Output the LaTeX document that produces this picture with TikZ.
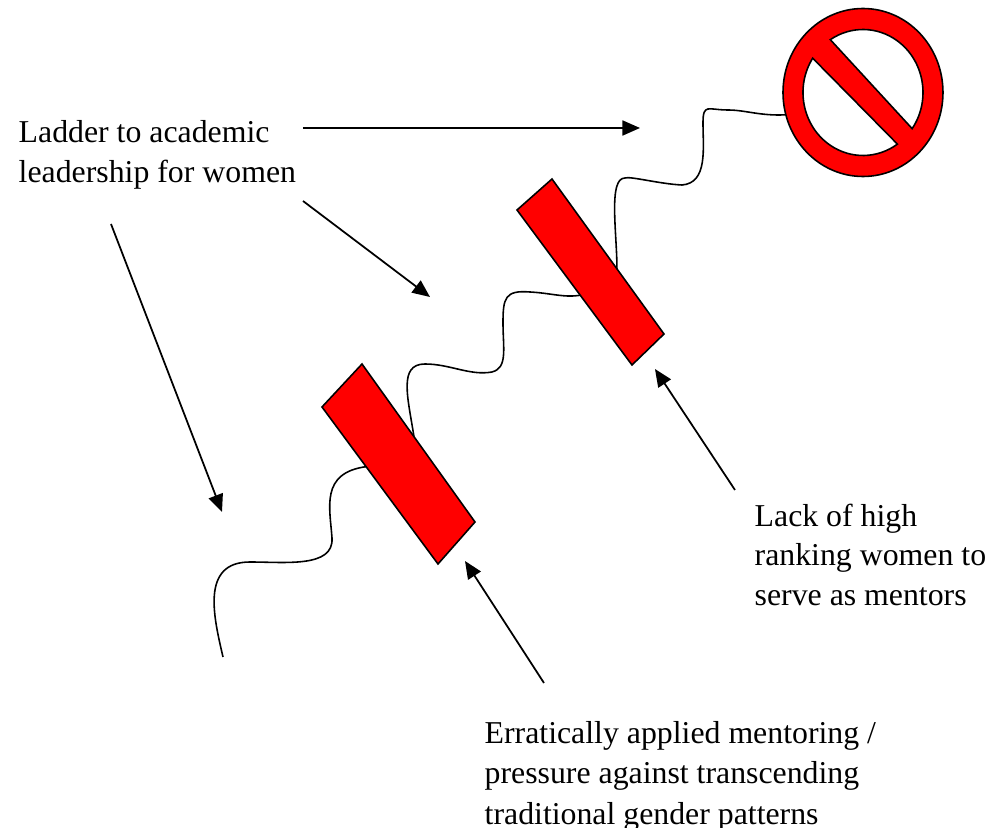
\documentclass[tikz,border=0pt]{standalone}
\usepackage{fontspec}
\setmainfont{Liberation Serif}
\usetikzlibrary{arrows.meta, calc, shapes.geometric}

\begin{document}
\begin{tikzpicture}[
    barrier/.style={draw, line width=0.45pt, fill=red},
    wave/.style={line width=0.45pt},
    arr/.style={-{Stealth[length=1.75mm, width=1.5mm, inset=0pt]}, line width=0.5pt},
    label/.style={align=left, anchor=north west, inner sep=0pt, font=\fontsize{9.05}{11.3}\selectfont}
  ]
  \useasboundingbox (0,0) rectangle (9.89,8.28);

  % Barrier corners
  \coordinate (onea) at (3.22,4.21);
  \coordinate (oneb) at (3.62,4.64);
  \coordinate (onec) at (4.75,3.06);
  \coordinate (oned) at (4.38,2.64);
  \coordinate (twoa) at (5.17,6.18);
  \coordinate (twob) at (5.52,6.49);
  \coordinate (twoc) at (6.64,4.94);
  \coordinate (twod) at (6.32,4.63);

  % Barriers
  \draw[barrier] (onea) -- (oneb) -- (onec) -- (oned) -- cycle;
  \draw[barrier] (twoa) -- (twob) -- (twoc) -- (twod) -- cycle;

  % No entry sign
  \node[ellipse, draw, line width=0.45pt, fill=red, minimum width=1.6cm, minimum height=1.68cm, inner sep=0pt] (noentry) at (8.63,7.355) {};
  \draw[fill=white, line width=0.45pt] ([shift={(-35:0.6 and 0.63)}]noentry.center) arc[start angle=-35, end angle=123, x radius=0.6, y radius=0.63] -- cycle;
  \draw[fill=white, line width=0.45pt] ([shift={(147:0.6 and 0.63)}]noentry.center) arc[start angle=147, end angle=305, x radius=0.6, y radius=0.63] -- cycle;

  % Labels
  \node[label] (ladder) at (0.18,7.08) {Ladder to academic\\leadership for women};
  \node[label] (lack) at (7.54,3.25) {Lack of high\\ranking women to\\serve as mentors};
  \node[label] (erratic) at (4.84,1.07) {Erratically applied mentoring /\\pressure against transcending\\[0.1ex]traditional gender patterns};

  % Free ends
  \coordinate (wavestart) at (2.23,1.71);
  \coordinate (aone) at (3.03,7.00);
  \coordinate (aoneend) at (6.40,7.00);
  \coordinate (atwo) at (3.03,6.27);
  \coordinate (atwoend) at (4.30,5.31);
  \coordinate (athree) at (1.11,6.04);
  \coordinate (athreeend) at (2.22,3.16);
  \coordinate (afour) at (5.44,1.45);
  \coordinate (afourend) at (4.65,2.67);
  \coordinate (afive) at (7.35,3.38);
  \coordinate (afiveend) at (6.55,4.59);

  % Waves
  \draw[wave] (wavestart) .. controls (2.14,2.10) and (2.00,2.66) .. (2.50,2.66)
    .. controls (2.85,2.66) and (3.34,2.60) .. (3.32,2.90)
    .. controls (3.30,3.20) and (3.20,3.55) .. ($(onea)!0.38!(oned)$);
  \draw[wave] ($(oneb)!0.46!(onec)$) .. controls (4.08,4.30) and (3.98,4.64) .. (4.25,4.64)
    .. controls (4.50,4.64) and (4.70,4.52) .. (4.92,4.56)
    .. controls (5.08,4.60) and (5.03,4.80) .. (5.03,5.05)
    .. controls (5.03,5.30) and (5.05,5.38) .. (5.30,5.36)
    .. controls (5.50,5.35) and (5.65,5.30) .. ($(twoa)!0.55!(twod)$);
  \draw[wave] ($(twob)!0.58!(twoc)$) .. controls (6.17,5.95) and (6.08,6.50) .. (6.25,6.50)
    .. controls (6.30,6.52) and (6.60,6.44) .. (6.82,6.43)
    .. controls (7.08,6.45) and (7.03,6.80) .. (7.03,7.05)
    .. controls (7.03,7.25) and (7.08,7.18) .. (7.28,7.18)
    .. controls (7.45,7.18) and (7.60,7.12) .. (noentry.196);

  % Arrows
  \draw[arr] (aone) -- (aoneend);
  \draw[arr] (atwo) -- (atwoend);
  \draw[arr] (athree) -- (athreeend);
  \draw[arr] (afour) -- (afourend);
  \draw[arr] (afive) -- (afiveend);
\end{tikzpicture}
\end{document}
